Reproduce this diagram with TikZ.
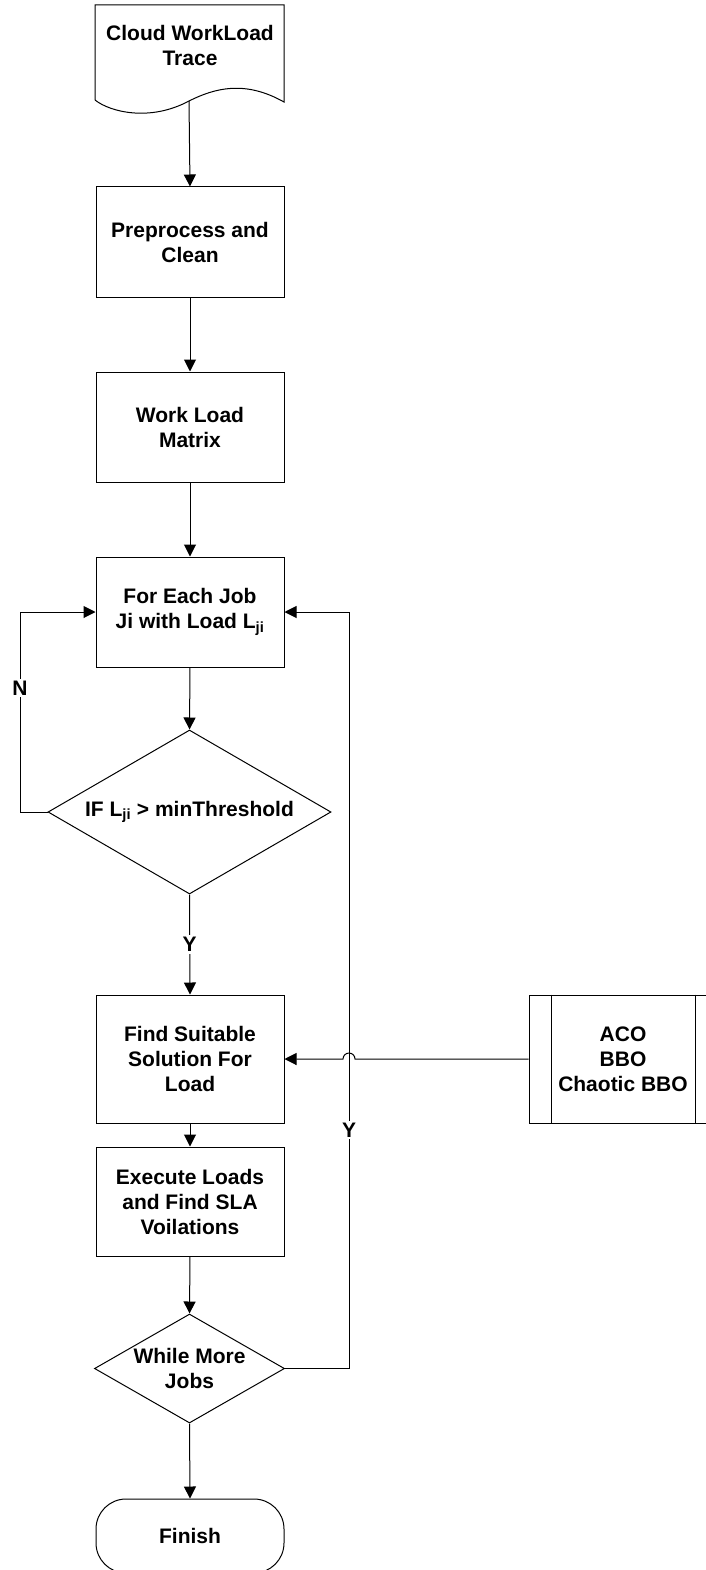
\documentclass[tikz,border=0pt]{standalone}
\usepackage{fontspec}
\setmainfont{Liberation Sans}
\usetikzlibrary{arrows.meta,shapes.geometric}

\begin{document}
\begin{tikzpicture}[x=1pt,y=1pt,
  txt/.style={font=\bfseries\fontsize{21}{25}\selectfont, align=center, inner sep=0pt},
  box/.style={txt, draw, line width=1pt, minimum width=188pt, minimum height=110pt},
  decision/.style={draw, line width=1pt, diamond, inner sep=0pt},
  terminal/.style={txt, draw, line width=1pt, rectangle, rounded corners=30pt, minimum width=188pt, minimum height=74pt},
  flow/.style={line width=1pt, -{Triangle[length=12pt,width=12pt]}},
  plain/.style={line width=1pt},
  tag/.style={txt, fill=white, inner sep=2pt}
]
\useasboundingbox (0,0) rectangle (706,-1570);

% input document with a wavy lower edge
\draw[line width=1pt] (95,-100) -- (95,-5) -- (284,-5) -- (284,-102)
  .. controls (245,-80) and (215,-88) .. (189,-101)
  .. controls (150,-122) and (110,-112) .. (95,-100);
\node[txt] (doc) at (190,-45) {Cloud WorkLoad\\Trace};
\coordinate (docbot) at (189,-101);

% process steps
\node[box] (pre)  at (190,-242) {Preprocess and\\Clean};
\node[box] (wlm)  at (190,-427) {Work Load\\Matrix};
\node[box] (each) at (190,-612) {For Each Job\\Ji with Load L\textsubscript{ji}};
\node[decision, minimum width=283pt, minimum height=164pt,
      label={[txt, name=iftxt]center:IF L\textsubscript{ji} > minThreshold}] (if) at (189.5,-812) {};
\node[box, minimum height=128pt] (find) at (190,-1059) {Find Suitable\\Solution For\\Load};
\node[box, minimum height=128pt] (aco) at (623,-1059) {ACO\\BBO\\Chaotic BBO};
\draw[plain] ([xshift=22.5pt]aco.north west) -- ([xshift=22.5pt]aco.south west);
\draw[plain] ([xshift=-22.5pt]aco.north east) -- ([xshift=-22.5pt]aco.south east);
\node[box, minimum height=109pt] (exec) at (190,-1201.5) {Execute Loads\\and Find SLA\\Voilations};
\node[decision, minimum width=190pt, minimum height=109pt,
      label={[txt, name=whtxt]center:While More\\Jobs}] (while) at (189.5,-1368.5) {};
\node[terminal] (fin) at (190,-1536) {Finish};

% main flow
\draw[flow] (docbot) -- (pre.north);
\draw[flow] (pre) -- (wlm);
\draw[flow] (wlm) -- (each);
\draw[flow] (each.south) -- (if.north);
\draw[flow] (if.south) -- node[tag] (yes1) {Y} (find.north);
\draw[flow] (find) -- (exec);
\draw[flow] (exec.south) -- (while.north);
\draw[flow] (while.south) -- (fin.north);

% loop back when the threshold is not exceeded
\coordinate (nl) at (20,-812);
\coordinate (nt) at (20,-612);
\draw[flow] (if.west) -- (nl) -- node[tag, pos=0.62] (no) {N} (nt) -- (each.west);

% loop back while more jobs remain
\coordinate (rb) at (349,-1368.5);
\coordinate (rt) at (349,-612);
\draw[flow] (while.east) -- (rb) -- node[tag, pos=0.315] (yes2) {Y} (rt) -- (each.east);

% algorithm input, hopping over the loop line
\draw[flow] (aco.west) -- (355,-1059) arc[start angle=0, end angle=180, radius=6pt] -- (find.east);
\end{tikzpicture}
\end{document}
